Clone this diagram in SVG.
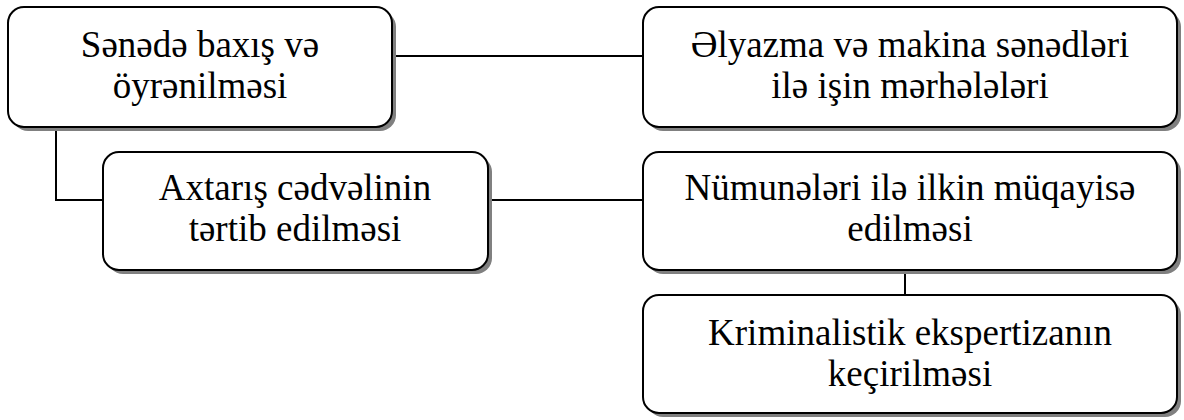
<svg xmlns="http://www.w3.org/2000/svg" width="1184" height="420" viewBox="0 0 1184 420">
<style>
.shadow{fill:#808080;stroke:none}
.box{fill:#ffffff;stroke:#000000;stroke-width:2}
.lbl{font-family:"Liberation Serif","DejaVu Serif","Times New Roman",serif;font-size:37px;fill:#000000;text-anchor:middle}
.conn{fill:none;stroke:#000000;stroke-width:2}
</style>
<rect width="1184" height="420" fill="#ffffff"/>
<g id="connectors">
<path class="conn" d="M392,56 H643"/>
<path class="conn" d="M56,127 V200 H103"/>
<path class="conn" d="M488,200 H643"/>
<path class="conn" d="M905,270 V295"/>
</g>
<g id="node1">
<rect class="shadow" x="12" y="11" width="384" height="120" rx="16"/>
<rect class="box" x="8" y="7" width="384" height="120" rx="16"/>
<text class="lbl" x="200" y="57">Sənədə baxış və</text>
<text class="lbl" x="200" y="98">öyrənilməsi</text>
</g>
<g id="node2">
<rect class="shadow" x="647" y="11" width="534" height="120" rx="16"/>
<rect class="box" x="643" y="7" width="534" height="120" rx="16"/>
<text class="lbl" x="910" y="57">Əlyazma və makina sənədləri</text>
<text class="lbl" x="910" y="98">ilə işin mərhələləri</text>
</g>
<g id="node3">
<rect class="shadow" x="107" y="156" width="385" height="118" rx="16"/>
<rect class="box" x="103" y="152" width="385" height="118" rx="16"/>
<text class="lbl" x="295" y="200">Axtarış cədvəlinin</text>
<text class="lbl" x="295" y="241">tərtib edilməsi</text>
</g>
<g id="node4">
<rect class="shadow" x="647" y="156" width="534" height="118" rx="16"/>
<rect class="box" x="643" y="152" width="534" height="118" rx="16"/>
<text class="lbl" x="910" y="200">Nümunələri ilə ilkin müqayisə</text>
<text class="lbl" x="910" y="241">edilməsi</text>
</g>
<g id="node5">
<rect class="shadow" x="647" y="299" width="534" height="118" rx="16"/>
<rect class="box" x="643" y="295" width="534" height="118" rx="16"/>
<text class="lbl" x="910" y="345">Kriminalistik ekspertizanın</text>
<text class="lbl" x="910" y="386">keçirilməsi</text>
</g>
</svg>
